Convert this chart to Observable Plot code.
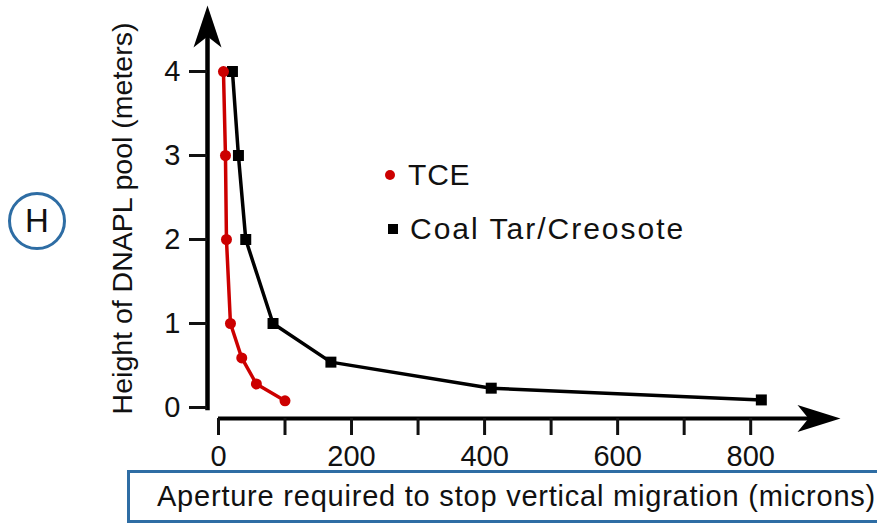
<!DOCTYPE html>
<html>
<head>
<meta charset="utf-8">
<script src="https://cdn.jsdelivr.net/npm/d3@7"></script>
<script src="https://cdn.jsdelivr.net/npm/@observablehq/plot@0.6"></script>
<style>
  html, body { margin: 0; padding: 0; background: #fff; }
  #wrap { position: relative; width: 877px; height: 524px; overflow: hidden; font-family: "Liberation Sans", Arial, sans-serif; }
  #chart { position: absolute; left: 0; top: 0; }
  .hcircle { position: absolute; left: 8px; top: 192px; width: 52px; height: 52px; border: 3.5px solid #2e6da4; border-radius: 50%; box-sizing: content-box; display: flex; align-items: center; justify-content: center; font-size: 33px; color: #111; }
  .xbox { position: absolute; left: 127px; top: 470px; width: 770px; height: 47px; border: 3px solid #2e6da4; background: #fff; }
  .xbox span { position: absolute; left: 27px; top: 7px; font-size: 29px; letter-spacing: 0.78px; color: #111; white-space: nowrap; }
  .legend { position: absolute; left: 384px; font-size: 30px; color: #111; display: flex; align-items: center; white-space: nowrap; }
  .legend i { display: inline-block; }
</style>
</head>
<body>
<div id="wrap">
  <div id="chart"></div>
  <div class="hcircle">H</div>
  <div class="legend" style="top:158px;letter-spacing:0.8px"><i style="width:10px;height:10px;border-radius:50%;background:#cc0000;margin-left:1px;margin-right:13px"></i>TCE</div>
  <div class="legend" style="top:212px;letter-spacing:2px"><i style="width:10px;height:10px;background:#000;margin-left:4px;margin-right:12px"></i>Coal Tar/Creosote</div>
  <div class="xbox"><span>Aperture required to stop vertical migration (microns)</span></div>
</div>
<script>
// Data
const tceAperture = [7.5, 10.5, 12, 18, 35, 57, 100];
const tceHeight   = [4, 3, 2, 1, 0.59, 0.28, 0.08];
const coalAperture = [21, 30, 41, 82, 169, 410, 816];
const coalHeight   = [4, 3, 2, 1, 0.54, 0.23, 0.09];
const xTicks = [0, 100, 200, 300, 400, 500, 600, 700, 800];
const xTickLabels = [0, 200, 400, 600, 800];
const yTicks = [0, 1, 2, 3, 4];
const yLabel = "Height of DNAPL pool (meters)";

// Axis extents (data units) for the arrowed axis lines
const xMin = -16.5, xMax = 935;
const yMin = -0.131, yMax = 4.786;

const tce = tceAperture.map((a, i) => ({a, h: tceHeight[i]}));
const coal = coalAperture.map((a, i) => ({a, h: coalHeight[i]}));

const arrowUp = { draw(ctx) { ctx.moveTo(0, 0); ctx.lineTo(14, 42); ctx.lineTo(0, 31); ctx.lineTo(-14, 42); ctx.closePath(); } };
const arrowRight = { draw(ctx) { ctx.moveTo(0, 0); ctx.lineTo(-43, 13.5); ctx.lineTo(-32, 0); ctx.lineTo(-43, -13.5); ctx.closePath(); } };

const chart = Plot.plot({
  width: 877,
  height: 524,
  marginLeft: 207,
  marginRight: 37,
  marginTop: 5,
  marginBottom: 106,
  style: { fontFamily: "Liberation Sans, Arial, sans-serif", color: "#111", background: "transparent" },
  x: { domain: [xMin, xMax], label: null },
  y: { domain: [yMin, yMax], label: null },
  marks: [
    // axis lines
    Plot.ruleX([xMin], { y1: -0.04, y2: yMax - 0.3, stroke: "black", strokeWidth: 4.5 }),
    Plot.ruleY([yMin], { x1: 0, x2: xMax - 30, stroke: "black", strokeWidth: 4 }),
    Plot.dot([{x: xMin, y: yMax}], { x: "x", y: "y", symbol: arrowUp, fill: "black", stroke: "none" }),
    Plot.dot([{x: xMax, y: yMin}], { x: "x", y: "y", symbol: arrowRight, fill: "black", stroke: "none" }),
    Plot.axisY(yTicks, { tickSize: 18, tickPadding: 9, fontSize: 29, strokeWidth: 3, label: null, tickFormat: d => String(d) }),
    Plot.axisX(xTicks, { tickSize: 17, tickPadding: 10, fontSize: 29, strokeWidth: 3, label: null,
      tickFormat: d => xTickLabels.includes(d) ? String(d) : "" }),
    Plot.text([yLabel], { frameAnchor: "left", textAnchor: "middle", dx: -85, dy: 6.5, rotate: -90, fontSize: 28.5, fill: "#111" }),
    // series
    Plot.line(coal, { x: "a", y: "h", stroke: "black", strokeWidth: 3.5 }),
    Plot.dot(coal, { x: "a", y: "h", symbol: "square", r: 6.2, fill: "black", stroke: "none" }),
    Plot.line(tce, { x: "a", y: "h", stroke: "#cc0000", strokeWidth: 3.5 }),
    Plot.dot(tce, { x: "a", y: "h", r: 5.5, fill: "#cc0000", stroke: "none" })
  ]
});
document.getElementById("chart").appendChild(chart);
</script>
</body>
</html>
